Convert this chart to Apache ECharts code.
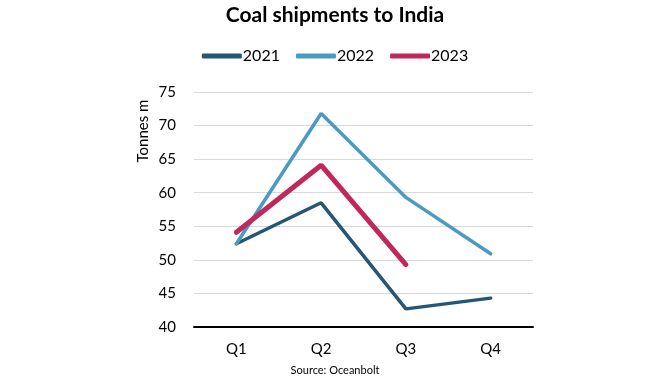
<!DOCTYPE html>
<html><head><meta charset="utf-8">
<script src="https://cdn.jsdelivr.net/npm/echarts@6/dist/echarts.min.js"></script>
<style>html,body{margin:0;padding:0;background:#fff}#c{width:670px;height:380px}</style>
</head><body><div id="c"></div>
<script>
const categories = ['Q1','Q2','Q3','Q4'];
const s2021 = [52.4, 58.5, 42.7, 44.3];
const s2022 = [52.4, 71.8, 59.3, 50.9];
const s2023 = [54.1, 64.1, 49.3];
const yTicks = [40,45,50,55,60,65,70,75];
const FONT = 'Lato, "Open Sans", sans-serif';
const chart = echarts.init(document.getElementById('c'));
chart.setOption({
  backgroundColor:'#fff',
  animation:false,
  textStyle:{fontFamily:FONT},
  title:{text:'Coal shipments to India', left:'center', top:0,
    textStyle:{fontFamily:FONT, fontSize:21, fontWeight:'bold', color:'#000'}},
  legend:{top:43, left:'center', itemWidth:40, itemHeight:5, itemGap:16,
    icon:'roundRect',
    textStyle:{fontFamily:FONT, fontSize:16, color:'#000', padding:[0,0,0,-4]},
    data:['2021','2022','2023']},
  grid:{left:194, right:137, top:92, bottom:53},
  xAxis:{type:'category', data:categories, boundaryGap:true,
    axisLine:{lineStyle:{color:'#000', width:2}}, axisTick:{show:false},
    axisLabel:{fontFamily:FONT, fontSize:15, color:'#000', margin:15}},
  yAxis:{type:'value', min:yTicks[0], max:yTicks[yTicks.length-1], interval:5,
    axisLine:{show:false}, axisTick:{show:false},
    splitLine:{lineStyle:{color:'#d9d9d9', width:1}},
    axisLabel:{fontFamily:FONT, fontSize:15, color:'#000', margin:18}},
  graphic:[
    {type:'text', x:143, y:131, rotation:Math.PI/2, style:{text:'Tonnes m', font:'15px '+FONT, fill:'#000', textAlign:'center', textVerticalAlign:'middle'}},
    {type:'text', left:'center', top:365, style:{text:'Source: Oceanbolt', font:'11px '+FONT, fill:'#000'}}
  ],
  series:[
    {name:'2021', type:'line', data:s2021, symbol:'none', lineStyle:{color:'#245677', width:3.5, cap:'round'}, itemStyle:{color:'#245677'}},
    {name:'2022', type:'line', data:s2022, symbol:'none', lineStyle:{color:'#4a9bc3', width:3.5, cap:'round'}, itemStyle:{color:'#4a9bc3'}},
    {name:'2023', type:'line', data:s2023, symbol:'none', lineStyle:{color:'#c1275a', width:5, cap:'round'}, itemStyle:{color:'#c1275a'}}
  ]
});
</script></body></html>
